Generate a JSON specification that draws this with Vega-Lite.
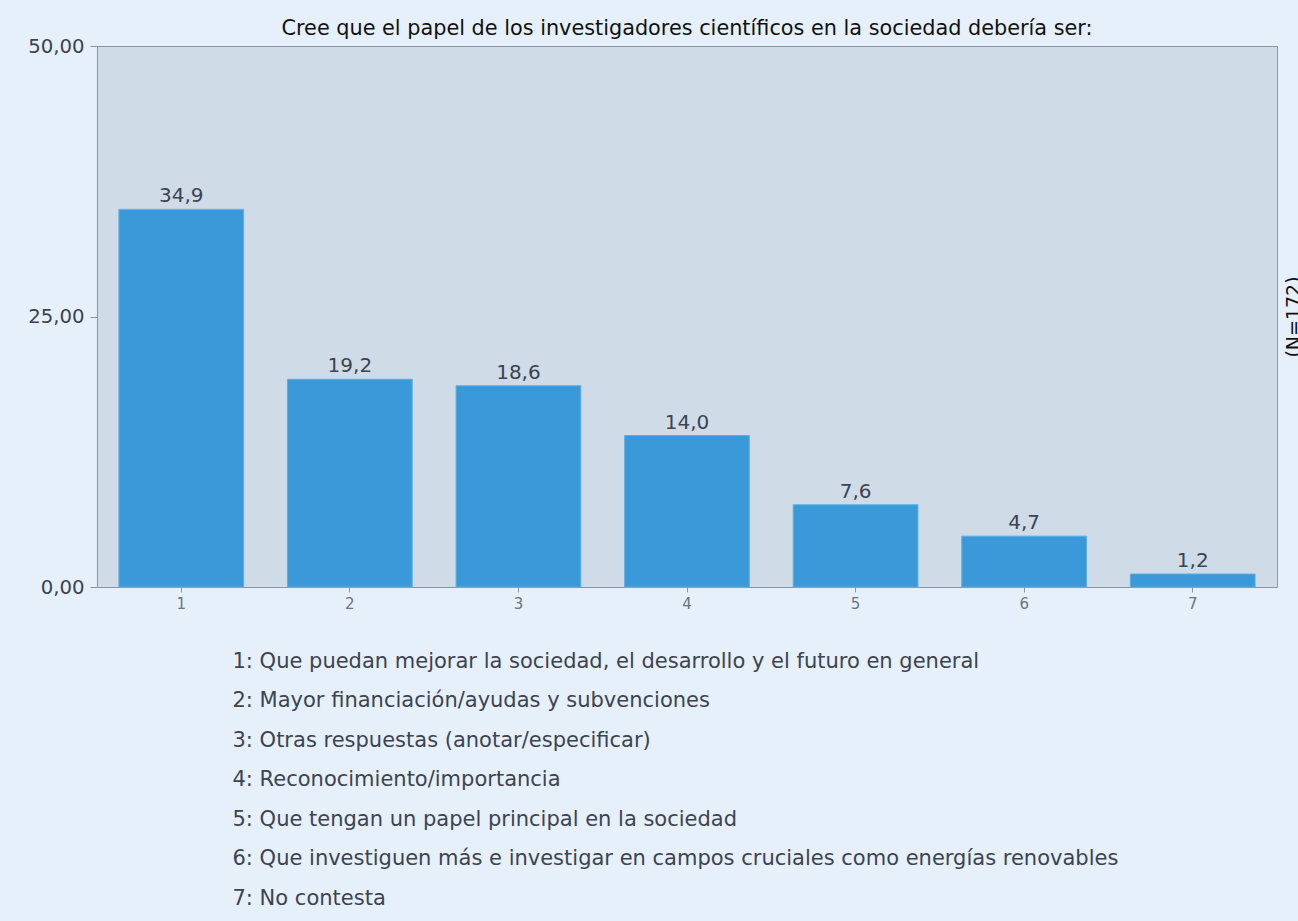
{
  "$schema": "https://vega.github.io/schema/vega-lite/v6.json",
  "autosize": {"type": "none"},
  "width": 1180,
  "height": 541,
  "padding": {"left": 97, "top": 46, "right": 21, "bottom": 334},
  "background": "#E6F0FA",
  "config": {
    "locale": {"number": {"decimal": ",", "thousands": ".", "grouping": [3], "currency": ["", " €"]}},
    "font": "DejaVu Sans",
    "view": {"fill": "#CFDBE7", "stroke": "#8A94A3", "strokeWidth": 1}
  },
  "title": {
    "text": "Cree que el papel de los investigadores científicos en la sociedad debería ser:",
    "fontSize": 20.8,
    "fontWeight": "normal",
    "color": "#111111",
    "anchor": "middle",
    "offset": -4,
    "font": "DejaVu Sans"
  },
  "data": {
    "values": [
      {"cat": "1", "pct": 34.9},
      {"cat": "2", "pct": 19.2},
      {"cat": "3", "pct": 18.6},
      {"cat": "4", "pct": 14.0},
      {"cat": "5", "pct": 7.6},
      {"cat": "6", "pct": 4.7},
      {"cat": "7", "pct": 1.2}
    ]
  },
  "encoding": {
    "x": {
      "field": "cat",
      "type": "ordinal",
      "scale": {"paddingInner": 0.26, "paddingOuter": 0.13},
      "axis": {
        "labelAngle": 0,
        "labelFontSize": 15,
        "labelColor": "#6B7380",
        "labelPadding": 4,
        "tickSize": 5,
        "tickColor": "#8A94A3",
        "domain": false,
        "title": [
          "1: Que puedan mejorar la sociedad, el desarrollo y el futuro en general",
          "2: Mayor financiación/ayudas y subvenciones",
          "3: Otras respuestas (anotar/especificar)",
          "4: Reconocimiento/importancia",
          "5: Que tengan un papel principal en la sociedad",
          "6: Que investiguen más e investigar en campos cruciales como energías renovables",
          "7: No contesta"
        ],
        "titleFontSize": 21,
        "titleFontWeight": "normal",
        "titleColor": "#3D4350",
        "titleAlign": "left",
        "titleAnchor": "start",
        "titleBaseline": "top",
        "titleX": 135,
        "titleY": 63,
        "titleLineHeight": 39.5
      }
    }
  },
  "layer": [
    {
      "mark": {"type": "bar", "color": "#3A9AD9", "stroke": "#62ADE2", "strokeWidth": 1},
      "encoding": {
        "y": {
          "field": "pct",
          "type": "quantitative",
          "scale": {"domain": [0, 50], "nice": false},
          "axis": {
            "values": [0, 25, 50],
            "format": ".2f",
            "labelFontSize": 19.7,
            "labelColor": "#3D4350",
            "labelPadding": 6,
            "tickSize": 7,
            "tickColor": "#8A94A3",
            "domain": false,
            "grid": false,
            "title": null
          }
        }
      }
    },
    {
      "mark": {"type": "text", "baseline": "bottom", "dy": -3, "fontSize": 20, "color": "#3D4350"},
      "encoding": {
        "y": {
          "field": "pct",
          "type": "quantitative",
          "scale": {"domain": [0, 50], "nice": false},
          "axis": {
            "orient": "right",
            "labels": false,
            "ticks": false,
            "domain": false,
            "grid": false,
            "title": "(N=172)",
            "titleAngle": 270,
            "titleBaseline": "top",
            "titlePadding": 7,
            "titleFontSize": 19,
            "titleFontWeight": "normal",
            "titleColor": "#111111"
          }
        },
        "text": {"field": "pct", "type": "quantitative", "format": ".1f"}
      }
    }
  ],
  "resolve": {"axis": {"y": "independent"}}
}
